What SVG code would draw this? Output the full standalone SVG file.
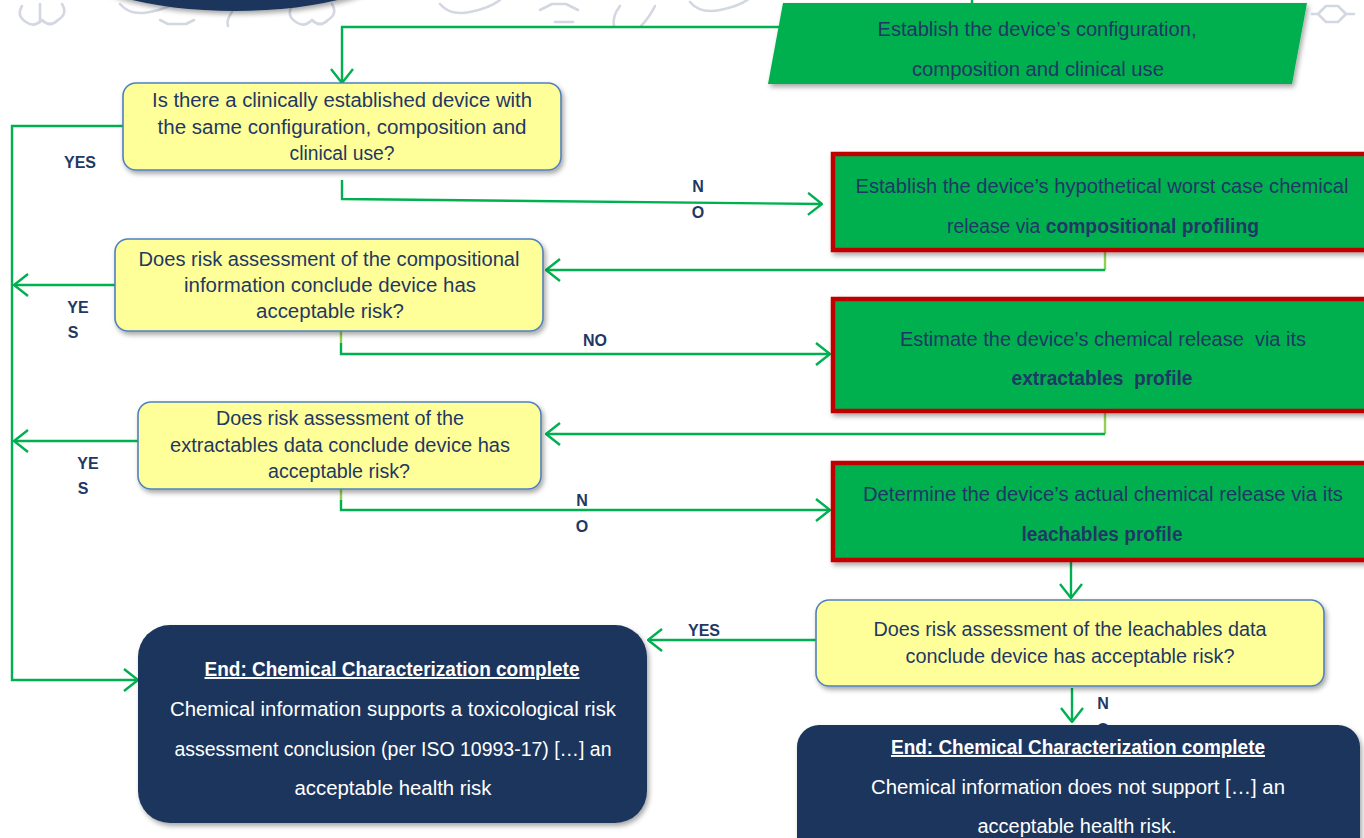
<svg xmlns="http://www.w3.org/2000/svg" width="1364" height="838" viewBox="0 0 1364 838">
  <defs>
    <filter id="shadow" x="-10%" y="-10%" width="125%" height="135%">
      <feDropShadow dx="2" dy="3" stdDeviation="2.5" flood-color="#000" flood-opacity="0.35"/>
    </filter>
    <marker id="arrow" viewBox="0 0 16 24" refX="15" refY="12" markerWidth="16" markerHeight="24" markerUnits="userSpaceOnUse" orient="auto">
      <path d="M1,1 L15,12 L1,23" fill="none" stroke="#00B050" stroke-width="2.4" stroke-linejoin="miter"/>
    </marker>
    <style>
      .bg { fill: #ffffff; }
      .wm { fill: none; stroke: #d3d7e1; stroke-width: 2.6; stroke-linecap: round; stroke-linejoin: round; }
      .q { fill: #FFFF99; stroke: #4F81BD; stroke-width: 1.6; filter: url(#shadow); }
      .step { fill: #00B050; stroke: #C00000; stroke-width: 4.5; filter: url(#shadow); }
      .start { fill: #00B050; filter: url(#shadow); }
      .end { fill: #1B365D; filter: url(#shadow); }
      .t { font-family: "Liberation Sans", Arial, sans-serif; font-size: 19.5px; fill: #1F3864; text-anchor: middle; }
      .tb { font-weight: bold; }
      .w { font-family: "Liberation Sans", Arial, sans-serif; font-size: 19.5px; fill: #ffffff; text-anchor: middle; }
      .lbl { font-family: "Liberation Sans", Arial, sans-serif; font-size: 16px; font-weight: bold; fill: #1F3864; text-anchor: middle; }
      .c { fill: none; stroke: #00B050; stroke-width: 2.4; }
      .stub { fill: none; stroke: #92D050; stroke-width: 2.4; }
    </style>
  </defs>

  <rect class="bg" x="0" y="0" width="1364" height="838"/>

  <!-- faint background artwork along the top edge -->
  <g id="watermark">
    <path class="wm" d="M22,6 q-6,10 4,16 q8,6 16,-2 q8,8 16,0 q10,-6 4,-16"/>
    <path class="wm" d="M40,4 v18"/>
    <path class="wm" d="M120,4 q10,12 30,8 q20,-4 30,-12"/>
    <path class="wm" d="M160,20 l8,4 h18 l8,-4"/>
    <path class="wm" d="M232,12 q-6,8 -4,14"/>
    <path class="wm" d="M292,6 q-6,10 4,16 q8,6 16,-2 q8,8 16,0 q10,-6 4,-16"/>
    <path class="wm" d="M440,4 q10,12 30,8 q20,-4 30,-12"/>
    <path class="wm" d="M540,10 l12,-6 h14 l12,6 M555,22 h18"/>
    <path class="wm" d="M620,6 q-8,10 -6,20 M655,6 q-6,12 -14,20"/>
    <path class="wm" d="M690,2 q10,12 30,8 q20,-4 30,-12"/>
    <path class="wm" d="M1318,14 l8,-8 h12 l8,8 l-8,8 h-12 z M1312,14 h6 M1346,14 h8"/>
  </g>

  <!-- title badge, cropped at the top edge -->
  <g id="title-badge">
    <ellipse cx="235" cy="-36" rx="160" ry="47" fill="#1B365D" filter="url(#shadow)"/>
  </g>

  <!-- connectors -->
  <g id="connectors">
    <path class="c" d="M972,0 V5"/>
    <path class="c" d="M779,27 H342 V83" marker-end="url(#arrow)"/>
    <!-- YES trunk on the left -->
    <path class="c" d="M123,126 H12 V680 H138" marker-end="url(#arrow)"/>
    <path class="c" d="M115,285 H14" marker-end="url(#arrow)"/>
    <path class="c" d="M138,441 H14" marker-end="url(#arrow)"/>
    <!-- NO branches -->
    <path class="c" d="M342,180 V199 L822,204" marker-end="url(#arrow)"/>
    <path class="stub" d="M341,331 V343"/>
    <path class="c" d="M341,343 V354 H830" marker-end="url(#arrow)"/>
    <path class="stub" d="M341,489 V500"/>
    <path class="c" d="M341,500 V510 H830" marker-end="url(#arrow)"/>
    <!-- returns to the questions -->
    <path class="stub" d="M1105,252 V270"/>
    <path class="c" d="M1105,270 H546" marker-end="url(#arrow)"/>
    <path class="stub" d="M1105,413 V434"/>
    <path class="c" d="M1105,434 H546" marker-end="url(#arrow)"/>
    <path class="c" d="M1071,562 V598" marker-end="url(#arrow)"/>
    <path class="c" d="M816,640 H648" marker-end="url(#arrow)"/>
    <path class="c" d="M1072,688 V722" marker-end="url(#arrow)"/>
  </g>

  <!-- branch labels -->
  <g id="labels">
    <text class="lbl" x="80" y="168">YES</text>
    <text class="lbl" x="698" y="192">N</text>
    <text class="lbl" x="698" y="218">O</text>
    <text class="lbl" x="78" y="313">YE</text>
    <text class="lbl" x="73" y="338">S</text>
    <text class="lbl" x="595" y="346">NO</text>
    <text class="lbl" x="88" y="469">YE</text>
    <text class="lbl" x="83" y="494">S</text>
    <text class="lbl" x="582" y="506">N</text>
    <text class="lbl" x="582" y="532">O</text>
    <text class="lbl" x="704" y="636">YES</text>
    <text class="lbl" x="1103" y="709">N</text>
    <text class="lbl" x="1103" y="735">O</text>
  </g>

  <g id="start">
    <polygon class="start" points="783,3 1307,3 1292,84 768,84"/>
    <text class="t" x="1037" y="36" textLength="319" lengthAdjust="spacingAndGlyphs">Establish the device’s configuration,</text>
    <text class="t" x="1038" y="76" textLength="252" lengthAdjust="spacingAndGlyphs">composition and clinical use</text>
  </g>

  <g id="q-established">
    <rect class="q" x="123" y="83" width="438" height="87" rx="13"/>
    <text class="t" x="342" y="107" textLength="380" lengthAdjust="spacingAndGlyphs">Is there a clinically established device with</text>
    <text class="t" x="342" y="134" textLength="369" lengthAdjust="spacingAndGlyphs">the same configuration, composition and</text>
    <text class="t" x="342" y="160" textLength="105" lengthAdjust="spacingAndGlyphs">clinical use?</text>
  </g>

  <g id="step-composition">
    <rect class="step" x="833" y="154" width="540" height="96"/>
    <text class="t" x="1102" y="193" textLength="493" lengthAdjust="spacingAndGlyphs">Establish the device’s hypothetical worst case chemical</text>
    <text class="t" x="1103" y="233" textLength="312" lengthAdjust="spacingAndGlyphs">release via <tspan class="tb">compositional profiling</tspan></text>
  </g>

  <g id="q-composition">
    <rect class="q" x="115" y="239" width="428" height="92" rx="13"/>
    <text class="t" x="329" y="266" textLength="381" lengthAdjust="spacingAndGlyphs">Does risk assessment of the compositional</text>
    <text class="t" x="330" y="292" textLength="292" lengthAdjust="spacingAndGlyphs">information conclude device has</text>
    <text class="t" x="330" y="318" textLength="148" lengthAdjust="spacingAndGlyphs">acceptable risk?</text>
  </g>

  <g id="step-extractables">
    <rect class="step" x="833" y="299" width="540" height="112"/>
    <text class="t" x="1103" y="346" textLength="406" lengthAdjust="spacingAndGlyphs" xml:space="preserve">Estimate the device’s chemical release  via its</text>
    <text class="t tb" x="1102" y="385" textLength="181" lengthAdjust="spacingAndGlyphs" xml:space="preserve">extractables  profile</text>
  </g>

  <g id="q-extractables">
    <rect class="q" x="138" y="402" width="403" height="87" rx="13"/>
    <text class="t" x="340" y="425" textLength="248" lengthAdjust="spacingAndGlyphs">Does risk assessment of the</text>
    <text class="t" x="340" y="452" textLength="340" lengthAdjust="spacingAndGlyphs">extractables data conclude device has</text>
    <text class="t" x="339" y="478" textLength="142" lengthAdjust="spacingAndGlyphs">acceptable risk?</text>
  </g>

  <g id="step-leachables">
    <rect class="step" x="833" y="463" width="540" height="97"/>
    <text class="t" x="1103" y="501" textLength="480" lengthAdjust="spacingAndGlyphs">Determine the device’s actual chemical release via its</text>
    <text class="t tb" x="1102" y="541" textLength="161" lengthAdjust="spacingAndGlyphs">leachables profile</text>
  </g>

  <g id="q-leachables">
    <rect class="q" x="816" y="600" width="508" height="86" rx="13"/>
    <text class="t" x="1070" y="636" textLength="393" lengthAdjust="spacingAndGlyphs">Does risk assessment of the leachables data</text>
    <text class="t" x="1070" y="663" textLength="329" lengthAdjust="spacingAndGlyphs">conclude device has acceptable risk?</text>
  </g>

  <g id="end-acceptable">
    <rect class="end" x="138" y="625" width="509" height="198" rx="32"/>
    <text class="w tb" x="392" y="676" textLength="375" lengthAdjust="spacingAndGlyphs" text-decoration="underline">End: Chemical Characterization complete</text>
    <text class="w" x="393" y="716" textLength="446" lengthAdjust="spacingAndGlyphs">Chemical information supports a toxicological risk</text>
    <text class="w" x="393" y="756" textLength="437" lengthAdjust="spacingAndGlyphs">assessment conclusion (per ISO 10993-17) […] an</text>
    <text class="w" x="393" y="795" textLength="197" lengthAdjust="spacingAndGlyphs">acceptable health risk</text>
  </g>

  <g id="end-not-acceptable">
    <rect class="end" x="797" y="725" width="563" height="140" rx="22"/>
    <text class="w tb" x="1078" y="754" textLength="374" lengthAdjust="spacingAndGlyphs" text-decoration="underline">End: Chemical Characterization complete</text>
    <text class="w" x="1078" y="794" textLength="414" lengthAdjust="spacingAndGlyphs">Chemical information does not support […] an</text>
    <text class="w" x="1077" y="833" textLength="199" lengthAdjust="spacingAndGlyphs">acceptable health risk.</text>
  </g>
</svg>
